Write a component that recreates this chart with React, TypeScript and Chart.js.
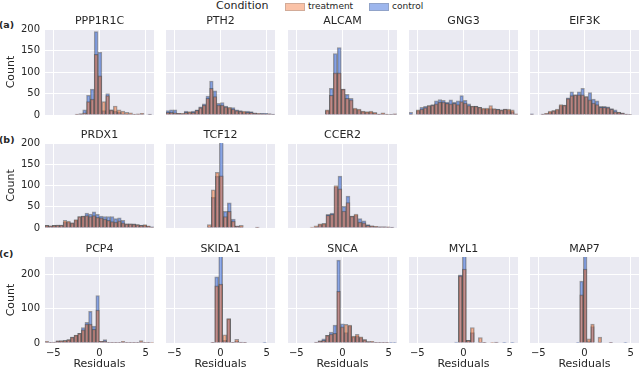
import React, { useEffect, useRef } from "react";
import { Chart, registerables } from "chart.js";

Chart.register(...registerables);

// ---------------- DATA ----------------
const genes = ["PPP1R1C", "PTH2", "ALCAM", "GNG3", "EIF3K", "PRDX1", "TCF12", "CCER2", "PCP4", "SKIDA1", "SNCA", "MYL1", "MAP7"];
const rowLabels = ["(a)", "(b)", "(c)"];
const conditions = ["treatment", "control"];
const legendTitle = "Condition";
const xTicks = [-5, 0, 5];
const yTicksRow12 = [0, 50, 100, 150, 200];
const yTicksRow3 = [0, 100, 200];
const yMaxRows = [200, 200, 250];
const xRange = [-5.9, 5.9];

// histogram bin start and bin width (residual units) per gene
const binStart = [-2.65, -5.9, -1.86, -5.9, -5.9, -5.9, -1.43, -3.52, -5.9, -1.06, -3.05, -0.99, -0.92];
const binWidth = [0.415, 0.393, 0.43, 0.393, 0.393, 0.393, 0.433, 0.433, 0.393, 0.433, 0.404, 0.433, 0.397];

const t_PPP1R1C = [2, 3, 5, 31, 37, 141, 91, 31, 45, 12, 21, 12, 9, 6, 5, 2, 3, 4, 0, 1];
const c_PPP1R1C = [1, 3, 12, 46, 60, 194, 146, 10, 50, 12, 9, 6, 3, 2, 1, 1, 1, 1, 0, 2];
const t_PTH2 = [6, 6, 5, 4, 4, 6, 8, 6, 11, 17, 23, 39, 62, 43, 23, 23, 19, 18, 14, 10, 9, 9, 6, 6, 4, 4, 3, 2, 3, 1];
const c_PTH2 = [10, 12, 12, 4, 3, 9, 6, 9, 12, 19, 26, 44, 79, 56, 27, 29, 21, 16, 17, 12, 10, 7, 9, 8, 5, 3, 4, 4, 3, 2];
const t_ALCAM = [12, 46, 98, 98, 60, 39, 35, 16, 14, 9, 8, 9, 6, 2, 5, 2, 1, 3];
const c_ALCAM = [10, 62, 143, 157, 60, 48, 39, 14, 12, 8, 6, 6, 4, 2, 3, 1, 1, 2];
const t_GNG3 = [1, 0, 12, 14, 17, 22, 23, 26, 30, 30, 27, 26, 27, 24, 31, 28, 22, 21, 20, 18, 16, 16, 22, 15, 13, 12, 14, 14, 12, 3];
const c_GNG3 = [6, 0, 10, 18, 20, 22, 24, 33, 36, 34, 30, 35, 30, 33, 45, 34, 26, 20, 21, 18, 14, 13, 15, 14, 14, 12, 14, 11, 8, 1];
const t_EIF3K = [1, 0, 0, 2, 4, 9, 10, 14, 24, 23, 38, 45, 47, 47, 47, 43, 35, 28, 24, 18, 18, 17, 14, 8, 7, 4, 2, 1, 0, 0];
const c_EIF3K = [3, 0, 0, 2, 3, 6, 10, 12, 22, 23, 40, 54, 47, 54, 62, 43, 52, 37, 33, 20, 20, 19, 15, 12, 6, 5, 2, 1, 0, 0];
const t_PRDX1 = [6, 5, 6, 7, 7, 18, 16, 12, 20, 27, 28, 29, 27, 29, 25, 24, 21, 18, 15, 14, 17, 12, 10, 10, 9, 8, 6, 8, 5, 2];
const c_PRDX1 = [6, 5, 6, 7, 7, 14, 14, 12, 18, 27, 28, 35, 33, 38, 32, 28, 27, 27, 27, 22, 24, 18, 10, 10, 10, 8, 7, 6, 4, 3];
const t_TCF12 = [8, 90, 131, 123, 27, 39, 16, 4, 6, 0, 0, 0, 2];
const c_TCF12 = [3, 72, 122, 235, 39, 59, 21, 5, 3, 0, 0, 0, 1];
const t_CCER2 = [2, 5, 10, 11, 30, 32, 100, 92, 40, 60, 28, 33, 14, 12, 6, 5, 4, 3, 3, 3, 1];
const c_CCER2 = [0, 2, 8, 10, 32, 35, 97, 122, 51, 75, 28, 30, 22, 17, 8, 5, 3, 3, 3, 2, 2];
const t_PCP4 = [5, 1, 2, 6, 7, 8, 10, 17, 23, 28, 38, 55, 55, 40, 96, 5, 6, 2, 1, 1, 1, 5, 2, 2, 1, 2, 7, 2, 1, 1];
const c_PCP4 = [2, 1, 3, 6, 6, 7, 10, 17, 22, 28, 45, 60, 92, 49, 138, 5, 10, 2, 1, 1, 1, 2, 1, 1, 1, 1, 3, 1, 1, 0];
const t_SKIDA1 = [2, 166, 171, 24, 71, 2, 11, 3, 1, 0, 0, 0, 0, 0];
const c_SKIDA1 = [1, 192, 280, 8, 70, 1, 5, 2, 1, 0, 0, 0, 0, 1];
const t_SNCA = [2, 6, 8, 22, 26, 28, 150, 47, 54, 52, 20, 25, 18, 10, 4, 5, 2, 2, 2, 1, 0, 0];
const c_SNCA = [3, 6, 12, 22, 32, 52, 241, 56, 30, 50, 18, 20, 16, 10, 4, 3, 2, 2, 1, 1, 1, 1];
const t_MYL1 = [0, 195, 215, 8, 45, 0, 16, 2, 0, 2, 3, 0, 0, 0, 0];
const c_MYL1 = [3, 198, 280, 8, 30, 0, 2, 2, 0, 0, 1, 0, 1, 0, 1];
const t_MAP7 = [0, 140, 215, 12, 55, 0, 17, 0, 0, 1, 0, 0, 0, 0];
const c_MAP7 = [2, 180, 280, 4, 48, 0, 3, 0, 0, 2, 0, 0, 0, 1];

const treatmentCounts = [t_PPP1R1C, t_PTH2, t_ALCAM, t_GNG3, t_EIF3K, t_PRDX1, t_TCF12, t_CCER2, t_PCP4, t_SKIDA1, t_SNCA, t_MYL1, t_MAP7];
const controlCounts = [c_PPP1R1C, c_PTH2, c_ALCAM, c_GNG3, c_EIF3K, c_PRDX1, c_TCF12, c_CCER2, c_PCP4, c_SKIDA1, c_SNCA, c_MYL1, c_MAP7];

// ---------------- STYLE / LAYOUT ----------------
const FONT = "'DejaVu Sans', sans-serif";
const TEXT = "#262626";
const T_FILL = "rgba(245,120,60,0.5)";
const C_FILL = "rgba(60,110,220,0.55)";
const EDGE = "rgba(50,50,50,0.45)";
const BG = "#EAEAF2";

const COL_LEFT = [45, 166, 288, 409, 530];
const PLOT_W = 109;
const ROW_TOP = [29, 143, 257];
const ROW_H = [86, 85, 86];
const TITLE_H = 15;
const Y_AXIS_W = 45;
const X_AXIS_H = 27;
const LABEL_ROOM = 8;
const layoutRows = [[0, 1, 2, 3, 4], [5, 6, 7], [8, 9, 10, 11, 12]];

Chart.defaults.font.family = FONT;
Chart.defaults.color = TEXT;

const bgPlugin = {
  id: "panelBg",
  beforeDraw(chart: any) {
    const { ctx, chartArea } = chart;
    ctx.save();
    ctx.fillStyle = BG;
    ctx.fillRect(chartArea.left, chartArea.top, chartArea.right - chartArea.left, chartArea.bottom - chartArea.top);
    ctx.restore();
  },
};

const fmt = (v: number) => (v < 0 ? "\u2212" + Math.abs(v) : String(v));

function Panel({ g, row, col }: { g: number; row: number; col: number }) {
  const ref = useRef<HTMLCanvasElement | null>(null);
  const yw = col === 0 ? Y_AXIS_W : 0;
  const xh = row === 2 ? X_AXIS_H : col === 0 ? LABEL_ROOM : 0;
  const left = COL_LEFT[col] - yw;
  const top = ROW_TOP[row] - TITLE_H;
  const width = PLOT_W + yw;
  const height = TITLE_H + ROW_H[row] + xh;

  useEffect(() => {
    const mk = (counts: number[]) =>
      counts.map((v, i) => ({ x: binStart[g] + (i + 0.5) * binWidth[g], y: v }));
    const yTicks = row === 2 ? yTicksRow3 : yTicksRow12;
    const chart = new Chart(ref.current as HTMLCanvasElement, {
      type: "bar",
      data: {
        datasets: [
          {
            label: conditions[0],
            data: mk(treatmentCounts[g]),
            backgroundColor: T_FILL,
            borderColor: EDGE,
            borderWidth: 1,
            grouped: false,
            barPercentage: 1,
            categoryPercentage: 1,
          } as any,
          {
            label: conditions[1],
            data: mk(controlCounts[g]),
            backgroundColor: C_FILL,
            borderColor: EDGE,
            borderWidth: 1,
            grouped: false,
            barPercentage: 1,
            categoryPercentage: 1,
          } as any,
        ],
      },
      options: {
        animation: false,
        responsive: false,
        maintainAspectRatio: false,
        layout: { padding: 0 },
        plugins: {
          legend: { display: false },
          tooltip: { enabled: false },
          title: {
            display: true,
            text: genes[g],
            fullSize: false,
            color: TEXT,
            font: { family: FONT, size: 11, weight: "normal", lineHeight: "14px" } as any,
            padding: { top: 0, bottom: 1 },
          },
        },
        scales: {
          x: {
            type: "linear",
            offset: false,
            min: xRange[0],
            max: xRange[1],
            grid: { color: "#ffffff", lineWidth: 1, drawTicks: false, offset: false },
            border: { display: false },
            ticks: {
              display: row === 2,
              padding: 4,
              color: TEXT,
              font: { family: FONT, size: 10 },
              callback: (v: any) => fmt(Number(v)),
            },
            title: {
              display: row === 2,
              text: "Residuals",
              color: TEXT,
              font: { family: FONT, size: 11, lineHeight: "12px" } as any,
              padding: { top: 0, bottom: 0 },
            },
            afterBuildTicks: (s: any) => {
              s.ticks = xTicks.map((v) => ({ value: v }));
            },
            afterFit: (s: any) => {
              s.height = xh;
              s.paddingLeft = 0;
              s.paddingRight = 0;
            },
          } as any,
          y: {
            type: "linear",
            offset: false,
            min: 0,
            max: yMaxRows[row],
            grid: { color: "#ffffff", lineWidth: 1, drawTicks: false, offset: false },
            border: { display: false },
            ticks: {
              display: col === 0,
              padding: 5,
              color: TEXT,
              font: { family: FONT, size: 10 },
              callback: (v: any) => String(v),
            },
            title: {
              display: col === 0,
              text: "Count",
              color: TEXT,
              font: { family: FONT, size: 11, lineHeight: "14px" } as any,
              padding: { top: 4, bottom: 0 },
            },
            afterBuildTicks: (s: any) => {
              s.ticks = yTicks.map((v) => ({ value: v }));
            },
            afterFit: (s: any) => {
              s.width = yw;
              s.paddingTop = 0;
              s.paddingBottom = 0;
            },
          } as any,
        },
      },
      plugins: [bgPlugin],
    });
    return () => chart.destroy();
  }, []);

  return (
    <canvas
      ref={ref}
      width={width}
      height={height}
      style={{ position: "absolute", left, top, width, height }}
    />
  );
}

const textStyle = (left: number, cy: number, size: number, bold = false): React.CSSProperties => ({
  position: "absolute",
  left,
  top: cy - 7,
  height: 14,
  lineHeight: "14px",
  fontSize: size,
  fontWeight: bold ? "bold" : "normal",
  fontFamily: FONT,
  color: TEXT,
  whiteSpace: "nowrap",
});

export default function App() {
  const rowLabelY = [25, 140, 254];
  return (
    <div
      style={{
        position: "fixed",
        left: 0,
        top: 0,
        width: 640,
        height: 370,
        background: "#ffffff",
        overflow: "hidden",
      }}
    >
      {/* legend */}
      <div style={textStyle(216, 6, 11)}>{legendTitle}</div>
      <div style={{ position: "absolute", left: 285, top: 3, width: 18, height: 6, background: "rgba(245,120,60,0.45)", border: "1px solid rgba(120,120,120,0.3)" }} />
      <div style={textStyle(308, 6, 9)}>{conditions[0]}</div>
      <div style={{ position: "absolute", left: 369, top: 3, width: 18, height: 6, background: "rgba(60,110,220,0.5)", border: "1px solid rgba(120,120,120,0.3)" }} />
      <div style={textStyle(392, 6, 9)}>{conditions[1]}</div>
      {rowLabels.map((l, i) => (
        <div key={l} style={textStyle(-1, rowLabelY[i], 9.5, true)}>{l}</div>
      ))}
      {layoutRows.map((r, ri) =>
        r.map((g, ci) => <Panel key={g} g={g} row={ri} col={ci} />)
      )}
    </div>
  );
}
